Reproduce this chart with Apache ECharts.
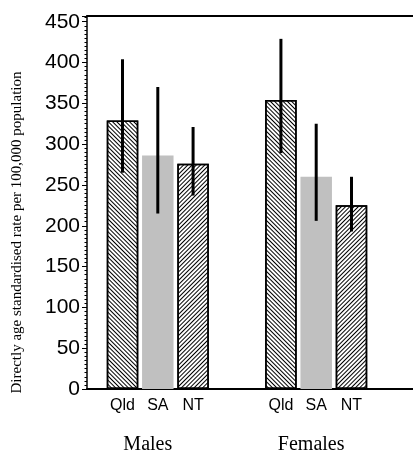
<!DOCTYPE html>
<html>
<head>
<meta charset="utf-8">
<script src="https://cdn.jsdelivr.net/npm/echarts@6/dist/echarts.min.js"></script>
<style>
html,body{margin:0;padding:0;background:#fff;}
#chart{width:413px;height:456px;}
</style>
</head>
<body>
<div id="chart"></div>
<script>
// ---- data ----
const groups = ['Males', 'Females'];
const states = ['Qld', 'SA', 'NT'];
const qldRate = [329, 354];
const saRate  = [286, 260];
const ntRate  = [276, 225];
const qldLow  = [265, 289];
const qldHigh = [404, 429];
const saLow   = [215, 206];
const saHigh  = [370, 325];
const ntLow   = [237, 193];
const ntHigh  = [321, 260];
const yMin = 0, yMax = 457, yStep = 50;
const yAxisTitle = 'Directly age standardised rate per 100,000 population';

// ---- layout / style ----
const BW = 31.5, GAP = 0.12;
const gridTop = 16, gridBottom = 67;
const chart = echarts.init(document.getElementById('chart'), null, {renderer: 'canvas'});

function hatch(rot, gap) {
  return { symbol: 'rect', symbolSize: 1, dashArrayX: [1, 0], dashArrayY: [1, gap], rotation: rot, color: '#000' };
}
function errSeries(idx, lows, highs) {
  return {
    type: 'custom', xAxisIndex: 0, yAxisIndex: 0, z: 5,
    data: lows.map((l, i) => [i, l, highs[i]]),
    renderItem: function (params, api) {
      const off = (idx - 1) * BW * (1 + GAP);
      const p1 = api.coord([api.value(0), api.value(1)]);
      const p2 = api.coord([api.value(0), api.value(2)]);
      return { type: 'line', shape: { x1: p1[0] + off, y1: p1[1], x2: p2[0] + off, y2: p2[1] },
               style: { stroke: '#000', lineWidth: 3, lineCap: 'butt' } };
    }
  };
}
const barLabel = { show: true, position: 'bottom', distance: 9, formatter: '{a}',
  fontFamily: 'Liberation Sans', fontSize: 16, color: '#000' };

const option = {
  animation: false,
  backgroundColor: '#fff',
  grid: [
    { left: 78.6, right: 17.6, top: gridTop, bottom: gridBottom },
    { left: 87, right: 0, top: gridTop, bottom: gridBottom }
  ],
  xAxis: [
    { type: 'category', data: groups, gridIndex: 0, axisLine: { show: false }, axisTick: { show: false },
      axisLabel: { margin: 46, fontFamily: 'Liberation Serif', fontSize: 20, color: '#000',
        formatter: (v, i) => (i === 0 ? '{m|' + v + '}' : '{f|' + v + '}'),
        rich: { m: { fontFamily: 'Liberation Serif', fontSize: 20, color: '#000', padding: [0, 20, 0, 0] },
                f: { fontFamily: 'Liberation Serif', fontSize: 20, color: '#000', padding: [0, 10, 0, 0] } } } },
    { type: 'value', gridIndex: 1, min: 0, max: 1, position: 'bottom',
      axisLine: { show: true, lineStyle: { color: '#000', width: 2 } },
      axisTick: { show: false }, axisLabel: { show: false }, splitLine: { show: false } },
    { type: 'value', gridIndex: 1, min: 0, max: 1, position: 'top',
      axisLine: { show: true, lineStyle: { color: '#000', width: 2 } },
      axisTick: { show: false }, axisLabel: { show: false }, splitLine: { show: false } }
  ],
  yAxis: [
    { type: 'value', gridIndex: 0, min: yMin, max: yMax, show: false, splitLine: { show: false } },
    { type: 'value', gridIndex: 1, min: yMin, max: yMax, interval: yStep,
      name: yAxisTitle, nameLocation: 'middle', nameRotate: 90, nameGap: 62,
      nameTextStyle: { fontFamily: 'Liberation Serif', fontSize: 15, color: '#000', padding: [0, 60, 0, 0] },
      axisLine: { show: true, lineStyle: { color: '#000', width: 1.5 } },
      axisTick: { show: true, length: 5, lineStyle: { color: '#000', width: 1 } },
      minorTick: { show: true, splitNumber: 10, length: 2.5, lineStyle: { color: '#000', width: 1 } },
      splitLine: { show: false },
      axisLabel: { margin: 7, fontFamily: 'Liberation Sans', fontSize: 21, color: '#000',
        formatter: v => (v % yStep === 0 ? String(v) : '') } }
  ],
  series: [
    { type: 'bar', name: states[0], data: qldRate, barWidth: BW, barGap: (GAP * 100) + '%',
      itemStyle: { color: '#fff', borderColor: '#000', borderWidth: 1.5, decal: hatch(Math.PI / 4, 1.6) },
      label: barLabel },
    { type: 'bar', name: states[1], data: saRate, barWidth: BW, barGap: (GAP * 100) + '%',
      itemStyle: { color: '#c0c0c0' }, label: barLabel },
    { type: 'bar', name: states[2], data: ntRate, barWidth: BW, barGap: (GAP * 100) + '%',
      itemStyle: { color: '#fff', borderColor: '#000', borderWidth: 1.5, decal: hatch(-Math.PI / 4, 2) },
      label: barLabel },
    errSeries(0, qldLow, qldHigh),
    errSeries(1, saLow, saHigh),
    errSeries(2, ntLow, ntHigh)
  ]
};
chart.setOption(option);
</script>
</body>
</html>
